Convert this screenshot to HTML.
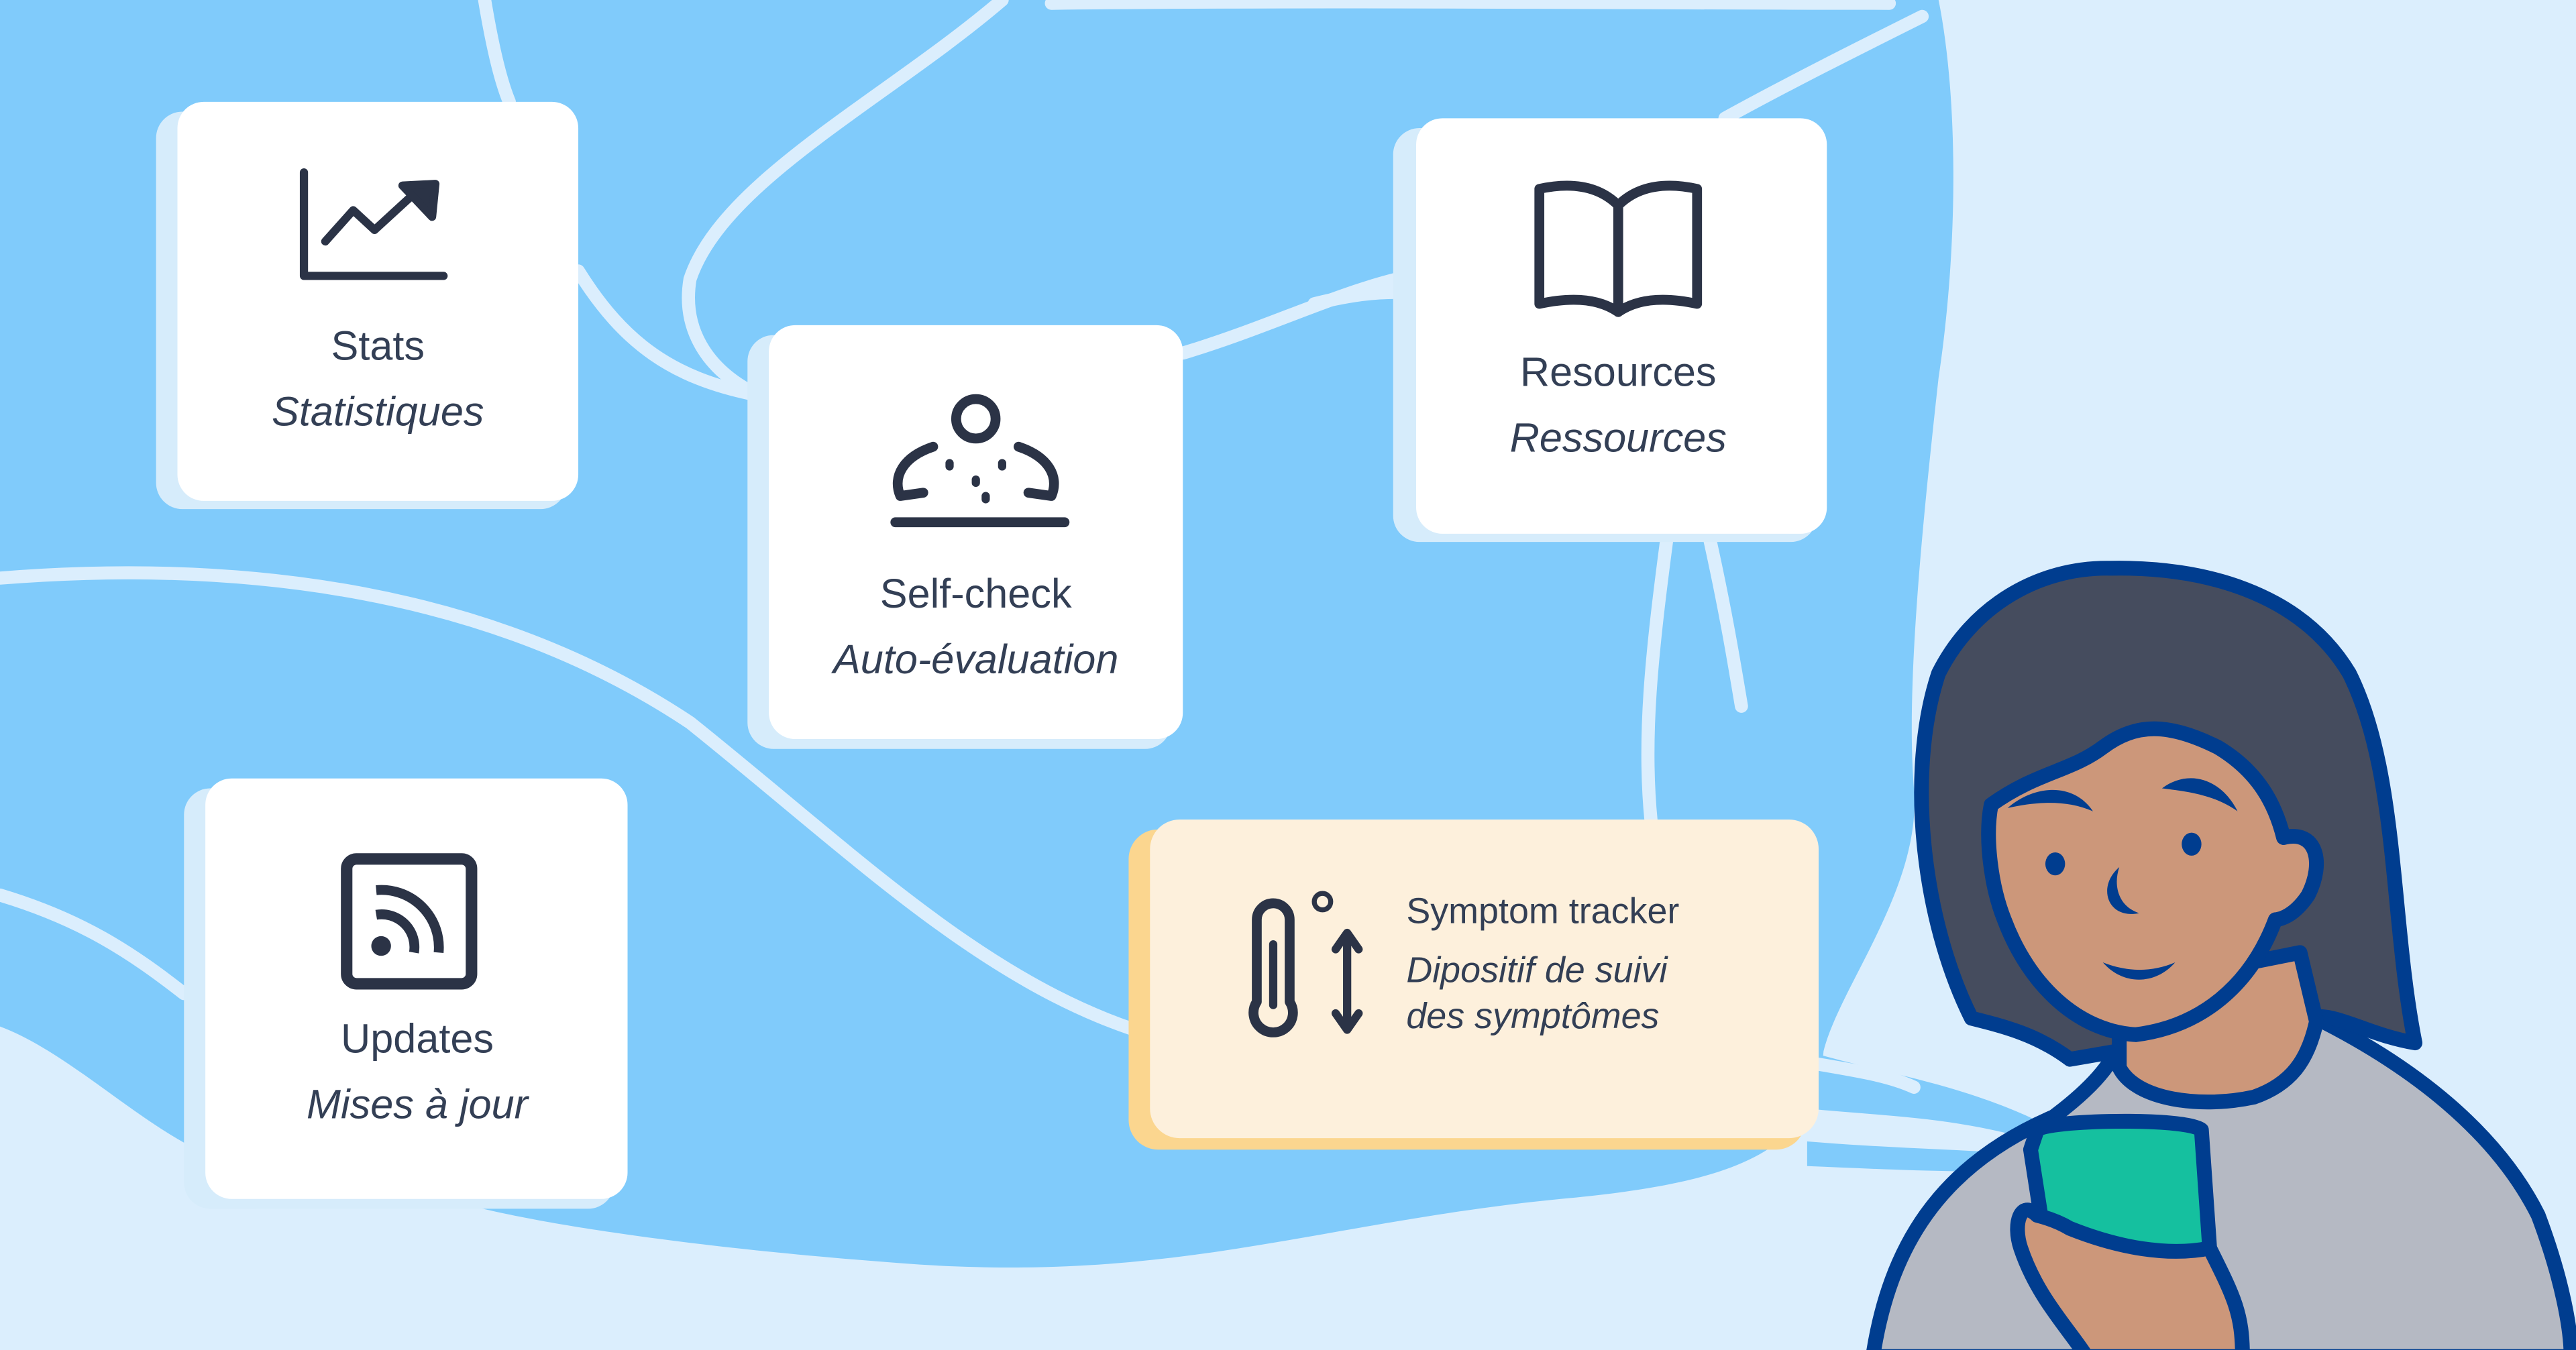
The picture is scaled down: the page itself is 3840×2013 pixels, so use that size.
<!DOCTYPE html>
<html><head><meta charset="utf-8"><style>
html,body{margin:0;padding:0;background:#dbeefd;}
svg{display:block}
text{font-family:"Liberation Sans",sans-serif;fill:#333f55}
</style></head><body>
<svg width="3840" height="2013" viewBox="0 0 1568 822" preserveAspectRatio="none" xmlns="http://www.w3.org/2000/svg">
<rect width="1568" height="822" fill="#dbeefd"/>
<!-- blob -->
<path d="M0,0 L1180,0 C1192,60 1192,150 1180,230 C1170,320 1160,420 1165,480 C1170,540 1120,600 1110,640 C1105,700 1060,720 950,730 C800,745 720,780 560,770 C420,760 330,745 290,735 L120,700 C80,680 40,640 0,625 Z" fill="#80cbfb"/>
<!-- blue streams toward phone -->
<path d="M1100,640 C1150,655 1200,660 1255,690 L1255,700 C1200,680 1150,680 1100,675 Z" fill="#80cbfb"/>
<path d="M1100,695 C1160,700 1210,700 1262,705 L1262,712 C1200,715 1150,712 1100,710 Z" fill="#80cbfb"/>
<path d="M1245,690 L1270,680 L1268,715 Z" fill="#5aaee8"/>
<!-- white lines -->
<g fill="none" stroke="#dbeefd" stroke-width="8" stroke-linecap="round">
<path d="M295,0 C300,30 305,50 310,62"/>
<path d="M352,165 C380,210 410,230 458,240"/>
<path d="M610,0 C540,60 440,110 420,170 C415,200 430,225 460,240"/>
<path d="M720,215 C770,200 810,180 850,170"/>
<path d="M800,185 C820,180 835,178 850,178"/>
<path d="M1050,72 C1090,50 1130,30 1170,10"/>
<path d="M0,352 C150,340 300,360 420,440 C520,520 600,600 700,630"/>
<path d="M0,545 C50,560 80,580 112,605"/>
<path d="M1015,325 C1005,400 1000,450 1005,500"/>
<path d="M1040,325 C1050,370 1055,400 1060,430"/>
<path d="M640,2 C800,0 1000,2 1150,2"/>
<path d="M1107,648 C1130,652 1150,655 1165,662"/>
</g>
<!-- cards -->
<g>
<rect x="95" y="68" width="250" height="242" rx="16" fill="#d6ecfb"/>
<rect x="108" y="62" width="244" height="243" rx="16" fill="#fff"/>
<rect x="455" y="204" width="258" height="252" rx="16" fill="#d6ecfb"/>
<rect x="468" y="198" width="252" height="252" rx="16" fill="#fff"/>
<rect x="848" y="78" width="258" height="252" rx="16" fill="#d6ecfb"/>
<rect x="862" y="72" width="250" height="253" rx="16" fill="#fff"/>
<rect x="112" y="480" width="262" height="256" rx="16" fill="#d6ecfb"/>
<rect x="125" y="474" width="257" height="256" rx="16" fill="#fff"/>
<rect x="687" y="505" width="412" height="195" rx="18" fill="#fbd68f"/>
<rect x="700" y="499" width="407" height="194" rx="18" fill="#fdf0dc"/>
</g>
<!-- icons -->
<g fill="none" stroke="#2b3346" stroke-width="5" stroke-linecap="round" stroke-linejoin="round">
<path d="M185,105 L185,168 L270,168"/>
<path d="M198,147 L215,128 L228,140 L252,118"/>
<path d="M245,113 L265,112 L263,132 Z" fill="#2b3346"/>
<path d="M937,115 C960,110 975,115 985,125 C995,115 1010,110 1033,115 L1033,185 C1010,180 995,183 985,190 C975,183 960,180 937,185 Z" stroke-width="6"/>
<path d="M985,125 L985,190" stroke-width="6"/>
<circle cx="594" cy="255" r="12" stroke-width="6"/>
<path d="M568,272 C550,278 543,290 548,302 L562,300 M620,272 C638,278 645,290 640,302 L626,300" stroke-width="6"/>
<path d="M578,282 L578,284 M594,292 L594,294 M610,282 L610,284 M600,302 L600,304" stroke-width="5"/>
<path d="M545,318 L648,318" stroke-width="6"/>
<rect x="211" y="523" width="76" height="76" rx="6" stroke-width="7"/>
<path d="M765,560 L765,610 A12,12 0 1 0 785,610 L785,560 A10,10 0 0 0 765,560 Z" stroke-width="6"/>
<path d="M775,575 L775,612"/>
<circle cx="805" cy="549" r="5" stroke-width="3"/>
<path d="M820,570 L820,625 M813,578 L820,568 L827,578 M813,617 L820,627 L827,617"/>
</g>
<circle cx="232" cy="576" r="6" fill="#2b3346"/>
<path d="M229,557 A20,20 0 0 1 252,580 M229,542 A35,35 0 0 1 267,580" fill="none" stroke="#2b3346" stroke-width="6"/>
<!-- texts -->
<text x="230" y="219" font-size="25" text-anchor="middle">Stats</text>
<text x="230" y="259" font-size="25" font-style="italic" text-anchor="middle">Statistiques</text>
<text x="594" y="370" font-size="25" text-anchor="middle">Self-check</text>
<text x="594" y="410" font-size="25" font-style="italic" text-anchor="middle">Auto-évaluation</text>
<text x="985" y="235" font-size="25" text-anchor="middle">Resources</text>
<text x="985" y="275" font-size="25" font-style="italic" text-anchor="middle">Ressources</text>
<text x="254" y="641" font-size="25" text-anchor="middle">Updates</text>
<text x="254" y="681" font-size="25" font-style="italic" text-anchor="middle">Mises à jour</text>
<text x="856" y="562" font-size="22">Symptom tracker</text>
<text x="856" y="598" font-size="22" font-style="italic">Dipositif de suivi</text>
<text x="856" y="626" font-size="22" font-style="italic">des symptômes</text>
<!-- person -->
<g stroke="#003d8f" stroke-width="9" stroke-linejoin="round">
<path d="M1140,826 C1150,760 1180,710 1250,680 C1270,665 1285,650 1290,635 L1410,620 C1470,650 1520,690 1545,740 C1560,780 1565,810 1565,826 Z" fill="#b5b9c3"/>
<path d="M1200,620 C1170,560 1160,470 1180,410 C1200,370 1240,345 1285,346 C1340,345 1400,360 1430,410 C1460,470 1455,560 1470,635 C1440,630 1420,615 1405,620 L1260,645 C1240,630 1220,625 1200,620 Z" fill="#454c5e"/>
<path d="M1290,625 L1290,650 C1300,670 1340,675 1372,668 C1395,660 1405,645 1410,622 L1400,580 L1300,600 Z" fill="#cc977a"/>
<path d="M1212,490 C1240,470 1260,470 1280,455 C1300,440 1320,440 1350,455 C1375,470 1385,490 1390,510 C1410,505 1415,525 1405,545 C1395,560 1385,560 1385,560 C1370,600 1340,625 1300,630 C1265,628 1235,600 1220,560 C1212,540 1208,510 1212,490 Z" fill="#cc977a"/>
<path d="M1236,700 L1240,688 C1245,682 1330,680 1340,688 L1345,760 C1330,770 1300,770 1245,758 Z" fill="#15c09f"/>
<path d="M1240,740 C1230,730 1225,745 1230,760 C1240,790 1260,810 1270,826 L1365,826 C1365,800 1360,790 1345,760 C1320,765 1290,760 1260,748 C1255,745 1248,742 1240,740 Z" fill="#cc977a"/>
</g>
<g fill="#003d8f">
<ellipse cx="1251" cy="526" rx="6" ry="7"/>
<ellipse cx="1334" cy="514" rx="6" ry="7"/>
<path d="M1290,528 C1276,540 1283,560 1302,556 C1290,552 1286,540 1290,528 Z"/>
<path d="M1280,586 C1295,592 1310,592 1324,586 C1312,600 1292,600 1280,586 Z"/>
<path d="M1222,492 C1238,478 1262,476 1274,494 C1258,487 1240,488 1222,492 Z"/>
<path d="M1316,480 C1332,468 1352,474 1362,494 C1348,484 1332,482 1316,480 Z"/>
</g>
</svg>
</body></html>
